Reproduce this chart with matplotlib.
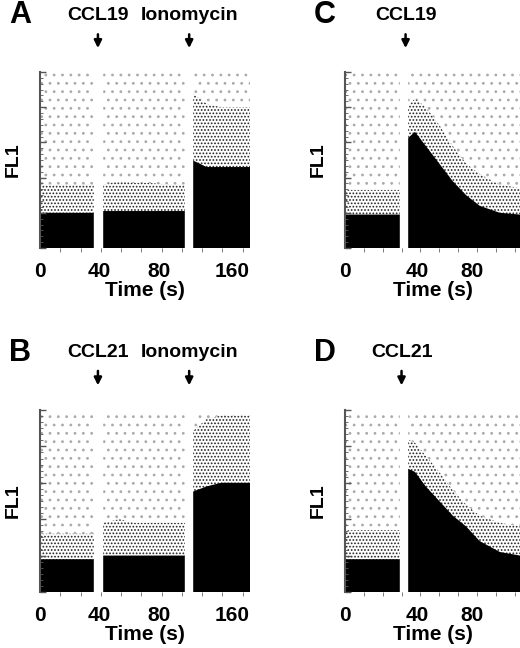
import matplotlib
matplotlib.use("Agg")
import matplotlib.pyplot as plt
import numpy as np

plt.rcParams['font.family'] = ['Liberation Sans', 'DejaVu Sans']
plt.rcParams['hatch.linewidth'] = 0.8

# Time grid (s) and envelopes (fraction of FL1 axis)
t_AB = [0, 10, 20, 30, 37, 43, 55, 65, 75, 90, 100, 105, 115, 125, 135, 145]
A_dense = [0.20, 0.20, 0.20, 0.20, 0.20, 0.21, 0.21, 0.21, 0.21, 0.21, 0.21, 0.50, 0.46, 0.46, 0.46, 0.46]
A_speck = [0.36, 0.36, 0.36, 0.36, 0.36, 0.36, 0.38, 0.37, 0.37, 0.36, 0.36, 0.88, 0.82, 0.80, 0.80, 0.80]
B_dense = [0.18, 0.18, 0.18, 0.18, 0.18, 0.20, 0.20, 0.20, 0.20, 0.20, 0.20, 0.55, 0.58, 0.60, 0.60, 0.60]
B_speck = [0.32, 0.32, 0.32, 0.32, 0.32, 0.38, 0.40, 0.38, 0.38, 0.38, 0.38, 0.88, 0.95, 0.97, 0.97, 0.97]
gaps_AB = [(37, 43), (100, 105)]

t_CD = [0, 10, 20, 30, 41, 46, 52, 60, 70, 80, 90, 100, 115, 130]
C_dense = [0.19, 0.19, 0.19, 0.19, 0.19, 0.62, 0.66, 0.58, 0.48, 0.38, 0.30, 0.24, 0.20, 0.19]
C_speck = [0.33, 0.33, 0.33, 0.33, 0.33, 0.80, 0.85, 0.80, 0.70, 0.58, 0.48, 0.42, 0.36, 0.34]
D_dense = [0.18, 0.18, 0.18, 0.18, 0.18, 0.68, 0.66, 0.58, 0.50, 0.42, 0.36, 0.28, 0.22, 0.20]
D_speck = [0.34, 0.34, 0.34, 0.34, 0.34, 0.84, 0.82, 0.75, 0.66, 0.56, 0.48, 0.42, 0.38, 0.36]
gaps_CD = [(41, 46)]

tick_pos_AB = [0, 41, 82, 133]
tick_lab_AB = ['0', '40', '80', '160']
tick_pos_CD = [0, 54, 94]
tick_lab_CD = ['0', '40', '80']

fig = plt.figure(figsize=(5.2, 6.48), dpi=100)
W, H = 520, 648

def make(rect, t, dense, speck, gaps, xmax, tp, tl, letter, arrows):
    x0, y0, x1, y1 = rect
    ax = fig.add_axes([x0 / W, 1 - y1 / H, (x1 - x0) / W, (y1 - y0) / H])
    ax.fill_between(t, 0, 1, facecolor='white', hatch='..', edgecolor='#aaaaaa', linewidth=0)
    ax.fill_between(t, 0, speck, facecolor='white', hatch='.....', edgecolor='#222222', linewidth=0)
    ax.fill_between(t, 0, dense, facecolor='black', linewidth=0)
    for g0, g1 in gaps:
        ax.axvspan(g0, g1, color='white', zorder=3)
    ax.set_xlim(0, xmax)
    ax.set_ylim(0, 1)
    for s in ['top', 'right', 'bottom']:
        ax.spines[s].set_visible(False)
    ax.spines['left'].set_linewidth(1.5)
    ax.spines['left'].set_color('#555555')
    ax.set_yticks(np.linspace(0, 1, 6))
    ax.set_yticks(np.linspace(0, 1, 31), minor=True)
    ax.tick_params(axis='y', labelleft=False, length=4, width=1, direction='in', color='#555555')
    ax.tick_params(axis='y', which='minor', length=2, direction='in', color='#555555')
    ax.set_xticks(tp)
    ax.set_xticks(np.arange(0, xmax, 14), minor=True)
    ax.set_xticklabels(tl, fontsize=15, fontweight='bold')
    ax.tick_params(axis='x', length=0, pad=10)
    ax.tick_params(axis='x', which='minor', length=3, color='#666666')
    ax.set_xlabel('Time (s)', fontsize=15, fontweight='bold', labelpad=0)
    ax.set_ylabel('FL1', fontsize=14, fontweight='bold', labelpad=10)
    fig.text((x0 - 31) / W, 1 - (y0 - 57) / H, letter, fontsize=22, fontweight='bold', va='center')
    for xs, lab in arrows:
        ax.annotate('', xy=(xs, 1.12), xytext=(xs, 1.23), xycoords=('data', 'axes fraction'),
                    arrowprops=dict(arrowstyle='-|>', color='black', lw=1.8, mutation_scale=11))
        ax.text(xs, 1.27, lab, transform=ax.get_xaxis_transform(), ha='center', va='bottom',
                fontsize=14, fontweight='bold')
    return ax

make((40, 72, 250, 248), t_AB, A_dense, A_speck, gaps_AB, 145, tick_pos_AB, tick_lab_AB, 'A',
     [(40, 'CCL19'), (103, 'Ionomycin')])
make((40, 410, 250, 592), t_AB, B_dense, B_speck, gaps_AB, 145, tick_pos_AB, tick_lab_AB, 'B',
     [(40, 'CCL21'), (103, 'Ionomycin')])
make((345, 72, 520, 248), t_CD, C_dense, C_speck, gaps_CD, 130, tick_pos_CD, tick_lab_CD, 'C',
     [(45, 'CCL19')])
make((345, 410, 520, 592), t_CD, D_dense, D_speck, gaps_CD, 130, tick_pos_CD, tick_lab_CD, 'D',
     [(42, 'CCL21')])

fig.savefig('out.png', dpi=100)
